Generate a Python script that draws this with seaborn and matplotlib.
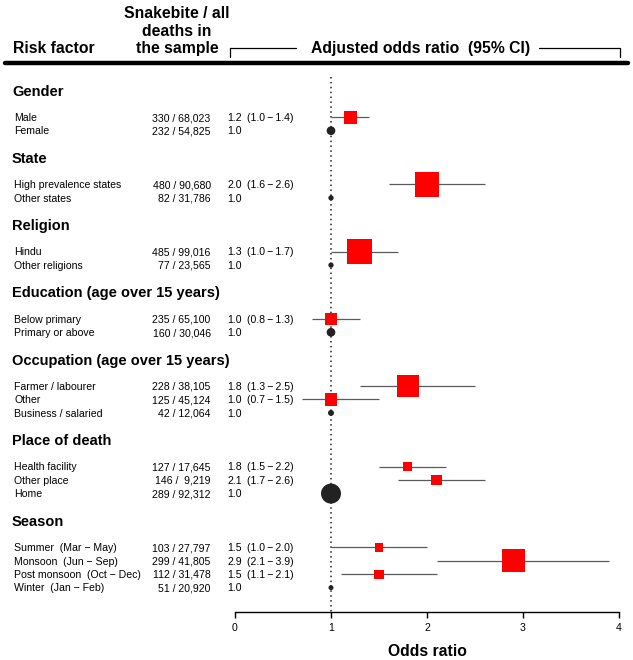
import numpy as np
import pandas as pd
import seaborn as sns
from matplotlib import pyplot as plt

nan = np.nan

group_names = ['Gender', 'State', 'Religion', 'Education (age over 15 years)',
               'Occupation (age over 15 years)', 'Place of death', 'Season']
group_sizes = [2, 2, 2, 2, 3, 3, 4]

labels = ['Male', 'Female',
          'High prevalence states', 'Other states',
          'Hindu', 'Other religions',
          'Below primary', 'Primary or above',
          'Farmer / labourer', 'Other', 'Business / salaried',
          'Health facility', 'Other place', 'Home',
          'Summer  (Mar \u2212 May)', 'Monsoon  (Jun \u2212 Sep)',
          'Post monsoon  (Oct \u2212 Dec)', 'Winter  (Jan \u2212 Feb)']
snake_deaths = [330, 232, 480, 82, 485, 77, 235, 160, 228, 125, 42,
                127, 146, 289, 103, 299, 112, 51]
all_deaths = [68023, 54825, 90680, 31786, 99016, 23565, 65100, 30046, 38105, 45124, 12064,
              17645, 9219, 92312, 27797, 41805, 31478, 20920]
odds = [1.2, 1.0, 2.0, 1.0, 1.3, 1.0, 1.0, 1.0, 1.8, 1.0, 1.0,
        1.8, 2.1, 1.0, 1.5, 2.9, 1.5, 1.0]
ci_low = [1.0, nan, 1.6, nan, 1.0, nan, 0.8, nan, 1.3, 0.7, nan,
          1.5, 1.7, nan, 1.0, 2.1, 1.1, nan]
ci_high = [1.4, nan, 2.6, nan, 1.7, nan, 1.3, nan, 2.5, 1.5, nan,
           2.2, 2.6, nan, 2.0, 3.9, 2.1, nan]
# marker size in pixels (box side / circle diameter)
marker_px = [12.7, 8.7, 24.7, 5.3, 25.3, 5.3, 12.7, 8.7, 21.7, 12.3, 6.0,
             9.3, 10.3, 20.0, 8.5, 23.3, 9.3, 5.0]

# row layout: header, blank, items..., blank, next header
rows, headers = [], []
line = 0
for g, n in zip(group_names, group_sizes):
    headers.append(line)
    rows += [line + 2 + i for i in range(n)]
    line += 2 + n + 1

df = pd.DataFrame({'label': labels, 'n': snake_deaths, 'N': all_deaths,
                   'OR': odds, 'lo': ci_low, 'hi': ci_high,
                   'px': marker_px, 'row': rows})
df['ref'] = df['lo'].isna()
df['s'] = (df['px'] * 0.72) ** 2

sns.set_style('white')
plt.rcParams['font.family'] = ['Liberation Sans', 'DejaVu Sans']
plt.rcParams['text.color'] = 'black'
plt.rcParams['xtick.color'] = 'black'

fig = plt.figure(figsize=(6.33, 6.60), dpi=100)
ax = fig.add_axes([235 / 633, 48.3 / 660, 384 / 633, 611.7 / 660])
ax.set_xlim(0, 4)
ax.set_ylim(38.79, -6.726)

ax.vlines(1, -1.0, 38.79, colors='#222222', linestyles=(0, (1, 2.2)), lw=1.1)
est = df[~df['ref']]
ax.hlines(est['row'], est['lo'], est['hi'], colors='#5a5a5a', lw=0.9)
sns.scatterplot(x=est['OR'], y=est['row'], s=est['s'], marker='s', color='#ff0000',
                linewidth=0, ax=ax, zorder=3, legend=False)
ref = df[df['ref']]
sns.scatterplot(x=ref['OR'], y=ref['row'], s=ref['s'], marker='o', color='#222222',
                linewidth=0, ax=ax, zorder=3, legend=False)

txt = dict(fontsize=7.6, va='baseline', clip_on=False)
for _, r in df.iterrows():
    yb = r['row'] + 0.28
    ax.text(-2.302, yb, r['label'], ha='left', **txt)
    ax.text(-0.253, yb, f"{r['n']} / {r['N']:>6,}", ha='right', **txt)
    ax.text(-0.08, yb, f"{r['OR']:.1f}", ha='left', **txt)
    if not r['ref']:
        ax.text(0.122, yb, f"({r['lo']:.1f}\u2009\u2212\u2009{r['hi']:.1f})", ha='left', **txt)
for g, h in zip(group_names, headers):
    ax.text(-2.323, h + 0.4, g, ha='left', va='baseline', fontsize=10.5,
            fontweight='bold', clip_on=False)

hdr = dict(fontsize=11.3, fontweight='bold', va='baseline', clip_on=False)
ax.text(-2.3125, -2.76, 'Risk factor', ha='left', **hdr)
ax.text(-0.604, -2.76, 'Snakebite / all\ndeaths in\nthe sample', ha='center',
        multialignment='center', linespacing=1.2, **hdr)
ax.text(1.932, -2.76, 'Adjusted odds ratio  (95% CI)', ha='center', **hdr)
ax.plot([-0.052, -0.052, 0.635], [-2.52, -3.155, -3.155], color='black', lw=0.9, clip_on=False)
ax.plot([3.167, 4.01, 4.01], [-3.155, -3.155, -2.52], color='black', lw=0.9, clip_on=False)
ax.plot([-2.396, 4.094], [-2.016, -2.016], color='black', lw=3.2,
        solid_capstyle='round', clip_on=False)

for side in ['top', 'right', 'left']:
    ax.spines[side].set_visible(False)
ax.spines['bottom'].set_bounds(0, 4)
ax.spines['bottom'].set_linewidth(1.0)
ax.spines['bottom'].set_color('black')
ax.set_xticks([0, 1, 2, 3, 4])
ax.set_xticklabels(['0', '1', '2', '3', '4'])
ax.tick_params(axis='x', bottom=True, length=4.3, width=1.0, pad=4, labelsize=7.6, color='black')
ax.set_yticks([])
ax.set_xlabel('')
ax.set_ylabel('')
ax.text(2, 41.76, 'Odds ratio', ha='center', va='center', fontsize=11.3,
        fontweight='bold', clip_on=False)

fig.savefig('out.png', dpi=100)
